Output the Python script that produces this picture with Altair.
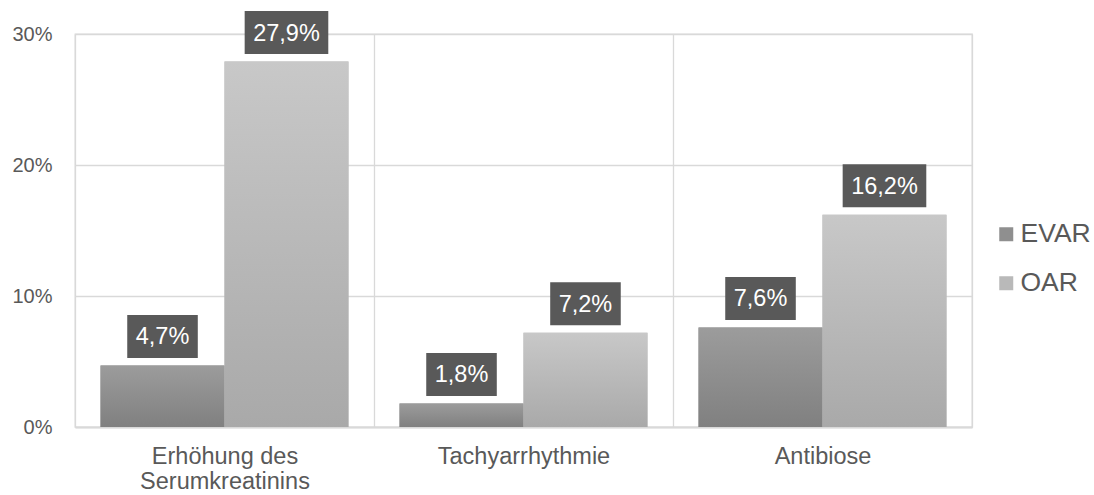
import altair as alt
import pandas as pd

# Complication rates (percent) per category and treatment group
categories = ["Erhöhung des|Serumkreatinins", "Tachyarrhythmie", "Antibiose"]
evar = [4.7, 1.8, 7.6]
oar = [27.9, 7.2, 16.2]
series = ["EVAR", "OAR"]
y_ticks = [0, 10, 20, 30]

FONT = "Liberation Sans"
TEXT_GREY = "#595959"
GRID = "#d9d9d9"
LABEL_SIZE = 23.5
BOX_H = 43

# Approximate glyph advance widths (em) used to size the value-label boxes
CHAR_EM = {",": 0.278, "%": 0.889}


def fmt(v):
    return f"{v:.1f}".replace(".", ",") + "%"


def box_path_and_size(text):
    w = sum(CHAR_EM.get(c, 0.556) for c in text) * LABEL_SIZE + 17
    h = BOX_H / w
    path = f"M-1,{-h:.4f}H1V{h:.4f}H-1Z"
    return path, w * w


rows = []
for cat, e, o in zip(categories, evar, oar):
    for s, v in zip(series, (e, o)):
        label = fmt(v)
        path, size = box_path_and_size(label)
        rows.append({"category": cat, "series": s, "value": v,
                     "label": label, "box": path, "box_size": size})
df = pd.DataFrame(rows)


def gradient(top, bottom):
    return {"gradient": "linear", "x1": 0, "y1": 0, "x2": 0, "y2": 1,
            "stops": [{"offset": 0, "color": top},
                      {"offset": 1, "color": bottom}]}


x_enc = alt.X(
    "category:N", sort=categories, title=None,
    scale=alt.Scale(paddingInner=0, paddingOuter=0),
    axis=alt.Axis(labelExpr="split(datum.label, '|')", labelAngle=0,
                  labelFont=FONT, labelFontSize=LABEL_SIZE, labelColor=TEXT_GREY,
                  labelLineHeight=25, labelPadding=17, ticks=False,
                  domainColor=GRID, domainWidth=2, grid=True, gridColor=GRID,
                  gridWidth=1.3, tickBand="extent"),
)
xoff_enc = alt.XOffset("series:N", sort=series,
                       scale=alt.Scale(paddingInner=0, paddingOuter=0.206))
y_enc = alt.Y(
    "value:Q", title=None,
    scale=alt.Scale(domain=[0, 30], nice=False),
    axis=alt.Axis(values=y_ticks, labelExpr="datum.value + '%'", labelFont=FONT,
                  labelFontSize=20, labelColor=TEXT_GREY, labelPadding=23,
                  ticks=False, domain=False, gridColor=GRID, gridWidth=1.3),
)

base = alt.Chart(df).encode(x=x_enc, xOffset=xoff_enc, y=y_enc)

# Flat-coloured bars carry the legend; gradient bars are drawn on top of them
legend_bars = base.mark_bar().encode(
    color=alt.Color(
        "series:N", sort=series, title=None,
        scale=alt.Scale(domain=series, range=["#8f8f8f", "#b9b9b9"]),
        legend=alt.Legend(orient="none", legendX=918, legendY=187,
                          symbolType="square", symbolSize=196,
                          symbolStrokeWidth=0, labelFont=FONT,
                          labelFontSize=26.5, labelColor=TEXT_GREY,
                          labelOffset=1, rowPadding=22, padding=0),
    )
)
evar_bars = base.transform_filter(alt.datum.series == "EVAR").mark_bar(
    fill=gradient("#9c9c9c", "#808080"))
oar_bars = base.transform_filter(alt.datum.series == "OAR").mark_bar(
    fill=gradient("#c8c8c8", "#a9a9a9"))

label_boxes = base.mark_point(filled=True, opacity=1, strokeWidth=0,
                              color=TEXT_GREY, yOffset=-29).encode(
    shape=alt.Shape("box:N", scale=None),
    size=alt.Size("box_size:Q", scale=None),
)
label_text = base.mark_text(font=FONT, fontSize=LABEL_SIZE, color="white",
                            baseline="middle", yOffset=-28).encode(
    text="label:N")

chart = alt.layer(legend_bars, evar_bars, oar_bars, label_boxes, label_text).properties(
    width=897, height=393,
    autosize=alt.AutoSizeParams(type="none"),
    padding={"left": 75, "top": 34, "right": 122, "bottom": 68},
    background="white",
).configure_view(stroke=GRID, strokeWidth=1.3)

chart.save("out.html", embed_options={"renderer": "svg", "actions": False})
